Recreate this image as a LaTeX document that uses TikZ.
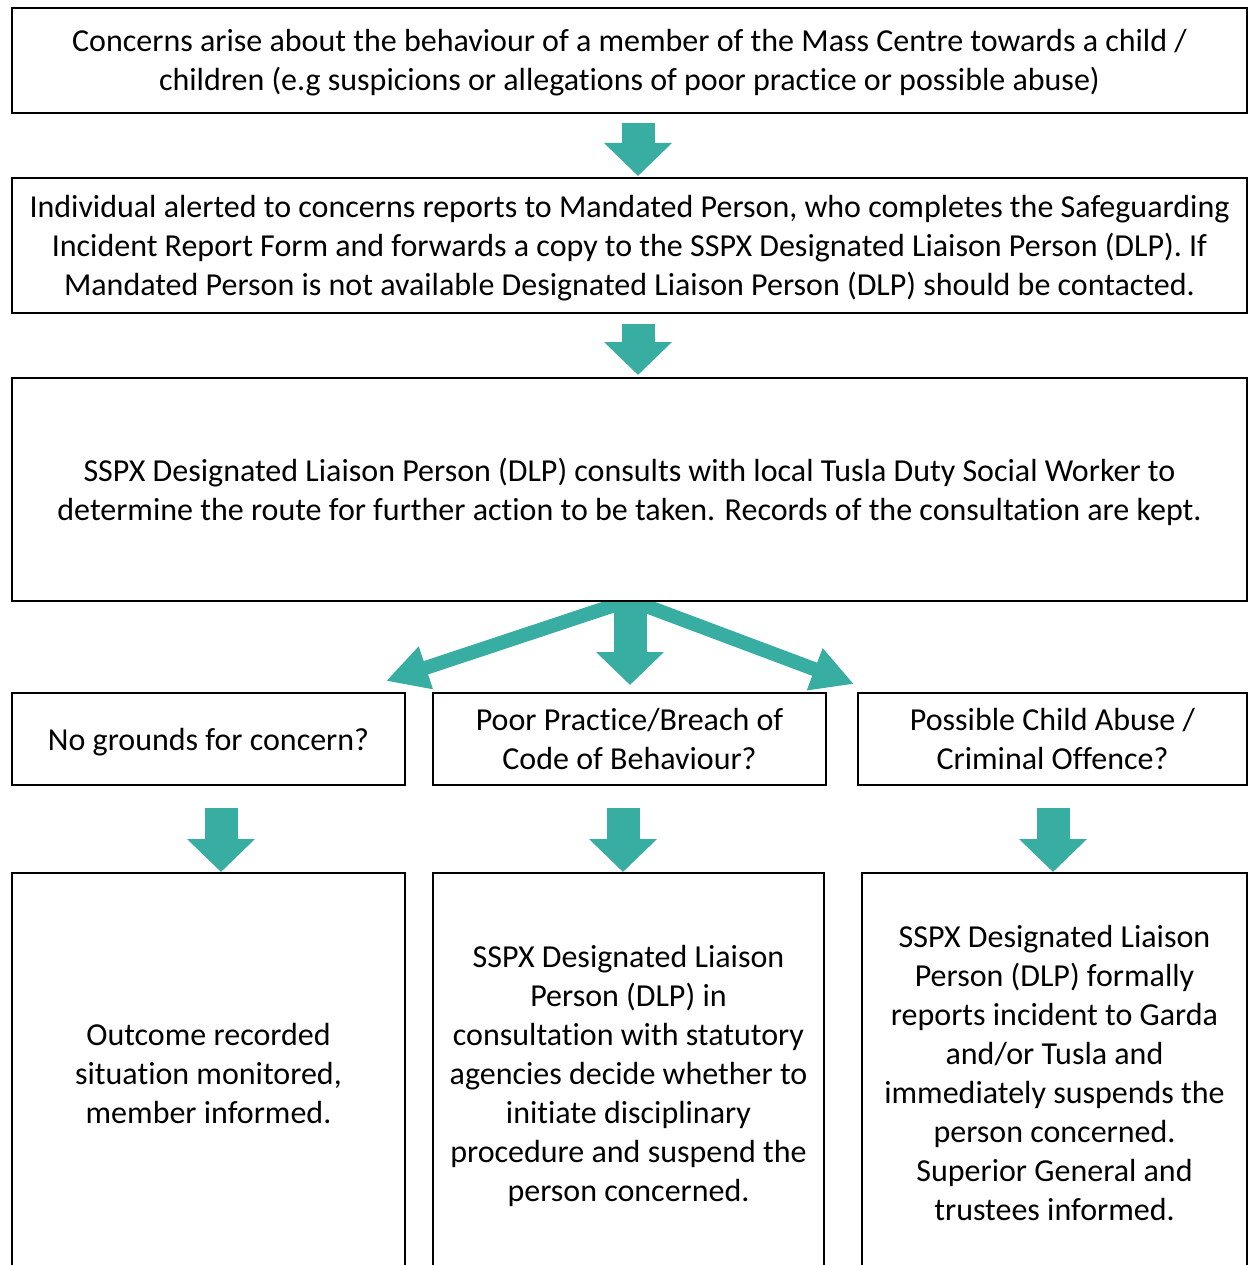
\documentclass[tikz,border=0pt]{standalone}
\usepackage{fontspec}
\setmainfont{Carlito}[Ligatures=NoCommon]
\usetikzlibrary{arrows.meta}
\definecolor{arrteal}{HTML}{38ADA2}
\newcommand{\Ls}{\rule[-8.5pt]{0pt}{39pt}}
\begin{document}
\begin{tikzpicture}[x=1pt,y=-1pt,
  box/.style={draw, line width=2pt, fill=white, inner sep=0pt, align=center,
    font=\fontsize{32}{39}\selectfont},
  blockarrow/.style={draw=arrteal, line width=33pt,
    -{Triangle[width=66pt,length=33pt]}},
  fanarrow/.style={draw=arrteal, line width=14pt,
    -{Triangle[width=42pt,length=42pt]}}]
\useasboundingbox (0,0) rectangle (1248,1265);
% fan arrows (clipped below box 3)
\begin{scope}
  \clip (0,601) rectangle (1248,700);
  \coordinate (fanorigin) at (630,600);
  \coordinate (ltip) at (386,681);
  \coordinate (rtip) at (854,684);
  \draw[fanarrow] (fanorigin) -- (ltip);
  \draw[fanarrow] (fanorigin) -- (rtip);
\end{scope}
% main boxes
\node[box, minimum width=1235, minimum height=105] (b1) at (629.5,60.5)
  {\Ls Concerns arise about the behaviour of a member of the Mass Centre towards a child /\\
   \Ls children (e.g suspicions or allegations of poor practice or possible abuse)};
\node[box, minimum width=1235, minimum height=135] (b2) at (629.5,245.5)
  {\Ls Individual alerted to concerns reports to Mandated Person, who completes the Safeguarding\\
   \Ls Incident Report Form and forwards a copy to the SSPX Designated Liaison Person (DLP). If\\
   \Ls Mandated Person is not available Designated Liaison Person (DLP) should be contacted.};
\node[box, minimum width=1235, minimum height=223] (b3) at (629.5,489.5)
  {\Ls SSPX Designated Liaison Person (DLP) consults with local Tusla Duty Social Worker to\\
   \Ls determine the route for further action to be taken. Records of the consultation are kept.};
% decision boxes
\node[box, minimum width=393, minimum height=92] (ba) at (208.5,739)
  {\Ls No grounds for concern?};
\node[box, minimum width=393, minimum height=92] (bb) at (629.5,739)
  {\Ls Poor Practice/Breach of\\ \Ls Code of Behaviour?};
\node[box, minimum width=389, minimum height=92] (bc) at (1052.5,739)
  {\Ls Possible Child Abuse /\\ \Ls Criminal Offence?};
% outcome boxes
\node[box, minimum width=393, minimum height=400] (oa) at (208.5,1073)
  {\Ls Outcome recorded\\ \Ls situation monitored,\\ \Ls member informed.};
\node[box, minimum width=391, minimum height=400] (ob) at (628.5,1073)
  {\Ls SSPX Designated Liaison\\ \Ls Person (DLP) in\\ \Ls consultation with statutory\\
   \Ls agencies decide whether to\\ \Ls initiate disciplinary\\ \Ls procedure and suspend the\\
   \Ls person concerned.};
\node[box, minimum width=385, minimum height=400] (oc) at (1054.5,1073)
  {\Ls SSPX Designated Liaison\\ \Ls Person (DLP) formally\\ \Ls reports incident to Garda\\
   \Ls and/or Tusla and\\ \Ls immediately suspends the\\ \Ls person concerned.\\
   \Ls Superior General and\\ \Ls trustees informed.};
% block arrows
\draw[blockarrow, shorten <=9pt, shorten >=1pt] (638,0 |- b1.south) -- (638,0 |- b2.north);
\draw[blockarrow, shorten <=10pt, shorten >=2pt] (638,0 |- b2.south) -- (638,0 |- b3.north);
\draw[blockarrow, shorten >=7pt] (630,0 |- b3.south) -- (630,0 |- bb.north);
\draw[blockarrow, shorten <=22pt] (221,0 |- ba.south) -- (221,0 |- oa.north);
\draw[blockarrow, shorten <=22pt] (623,0 |- bb.south) -- (623,0 |- ob.north);
\draw[blockarrow, shorten <=22pt] (1053,0 |- bc.south) -- (1053,0 |- oc.north);
\end{tikzpicture}
\end{document}
